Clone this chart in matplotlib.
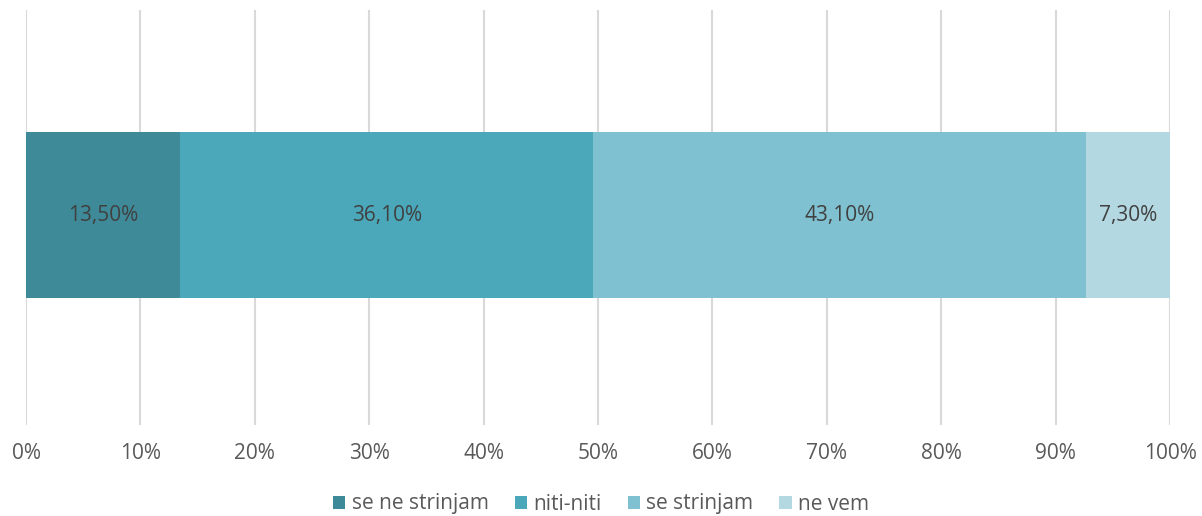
import matplotlib
matplotlib.use("Agg")
import matplotlib.pyplot as plt
from matplotlib.ticker import FuncFormatter

categories = ["se ne strinjam", "niti-niti", "se strinjam", "ne vem"]
values = [13.5, 36.1, 43.1, 7.3]
colors = ["#3E8A99", "#4AA8BA", "#7FC1D1", "#B3D8E1"]
xticks = list(range(0, 101, 10))

plt.rcParams['font.family'] = ['Open Sans', 'DejaVu Sans']
text_color = "#595959"

fig = plt.figure(figsize=(12.02, 5.16), dpi=100)
ax = fig.add_axes([26/1202, 1-425/516, (1170-26)/1202, 415/516])

left = 0
for cat, v, c in zip(categories, values, colors):
    ax.barh(0, v, left=left, height=0.398, color=c, label=cat, zorder=3)
    ax.text(left + v/2, 0, f"{v:.2f}%".replace('.', ','), ha='center', va='center',
            fontsize=15, color="#404040", zorder=4)
    left += v

ax.set_xlim(0, 100)
ax.set_ylim(-0.506, 0.494)
ax.set_xticks(xticks)
ax.xaxis.set_major_formatter(FuncFormatter(lambda x, p: f"{int(x)}%"))
ax.set_yticks([])
ax.grid(axis='x', color="#D9D9D9", linewidth=1.5, zorder=0)
for s in ax.spines.values():
    s.set_visible(False)
ax.tick_params(axis='x', length=0, labelsize=15, labelcolor=text_color, pad=13)

leg = fig.legend(loc='center', bbox_to_anchor=(0.5, 1-504/516), ncol=4, frameon=False,
                 fontsize=15, handlelength=0.6, handleheight=0.6, handletextpad=0.3,
                 columnspacing=1.25)
for t in leg.get_texts():
    t.set_color(text_color)

fig.savefig("out.png", dpi=100)
